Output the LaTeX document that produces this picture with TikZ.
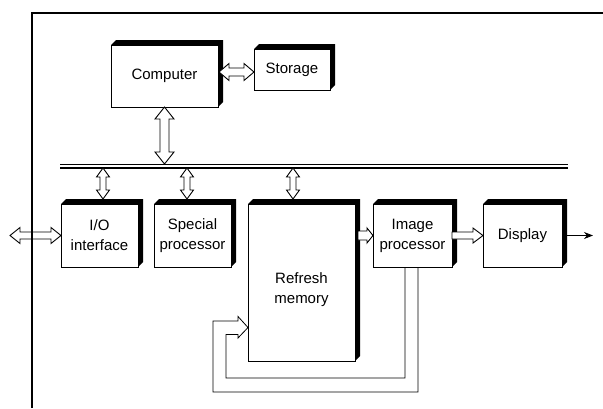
\documentclass[tikz,border=0pt]{standalone}
\usepackage{fontspec}
\setmainfont{Liberation Sans}
\usetikzlibrary{calc,arrows.meta}

\newcommand{\dblarrow}[5]{%
  \path[fat] (#4)
    -- ($(#4)!#3!(#5)!#2!90:(#5)$) -- ($(#4)!#3!(#5)!#1!90:(#5)$)
    -- ($(#5)!#3!(#4)!#1!-90:(#4)$) -- ($(#5)!#3!(#4)!#2!-90:(#4)$)
    -- (#5)
    -- ($(#5)!#3!(#4)!#2!90:(#4)$) -- ($(#5)!#3!(#4)!#1!90:(#4)$)
    -- ($(#4)!#3!(#5)!#1!-90:(#5)$) -- ($(#4)!#3!(#5)!#2!-90:(#5)$)
    -- cycle;}
\newcommand{\fatarrow}[5]{%
  \path[fat] ($(#4)!#1!90:(#5)$)
    -- ($(#5)!#3!(#4)!#1!-90:(#4)$) -- ($(#5)!#3!(#4)!#2!-90:(#4)$)
    -- (#5)
    -- ($(#5)!#3!(#4)!#2!90:(#4)$) -- ($(#5)!#3!(#4)!#1!90:(#4)$)
    -- ($(#4)!#1!-90:(#5)$) -- cycle;}

\begin{document}
\begin{tikzpicture}[x=1pt, y=-1pt,
  box/.style={rectangle, draw, fill=white, line width=0.9pt, outer sep=0pt, inner sep=0pt, align=center, font={\fontsize{15}{20}\selectfont}},
  fat/.style={draw, fill=white, line width=0.9pt},
  wire/.style={line width=0.8pt}
]
  \useasboundingbox (0,0) rectangle (603,408);
  \node[box, minimum width=107pt, minimum height=62pt] (comp) at (164.5,76) {Computer};
  \node[box, minimum width=76pt, minimum height=41pt] (stor) at (292,69.5) {Storage};
  \node[box, minimum width=77pt, minimum height=63pt] (io) at (99.5,235.5) {I/O\\interface};
  \node[box, minimum width=77pt, minimum height=63pt] (spec) at (192.5,235.5) {Special\\processor};
  \node[box, minimum width=107pt, minimum height=157pt] (refr) at (301.5,282.5) {\rule{0pt}{26pt}Refresh\\memory};
  \node[box, minimum width=79pt, minimum height=63pt] (imgp) at (412.5,235.5) {Image\\processor};
  \node[box, minimum width=79pt, minimum height=63pt] (disp) at (522.5,235.5) {Display};

  \foreach \n in {comp,stor,io,spec,refr,imgp,disp}
    \fill (\n.north west) -- ++(5,-5) -| ($(\n.south east)+(5,-5)$) -- (\n.south east) -- (\n.north east) -- cycle;

  \coordinate (busL) at (60,164);
  \coordinate (busR) at (568,164);
  \coordinate (busB) at ($(busL)+(0,4)$);
  \draw[line width=0.8pt] (busL) -- (busR);
  \draw[line width=1.3pt] (busB) -- ($(busR)+(0,4)$);

  \coordinate (cs1) at ($(comp.east)+(1,-4)$);
  \coordinate (cs2) at (stor.west |- cs1);
  \dblarrow{4pt}{8.5pt}{10pt}{cs1}{cs2}
  \coordinate (cb) at (comp.south |- busL);
  \dblarrow{4.5pt}{9.5pt}{12pt}{comp.south}{cb}
  \foreach \n/\dx in {io/3.5, spec/-5.5, refr/-8.5} {
    \coordinate (t) at ($(\n.north)+(\dx,-5)$);
    \coordinate (s) at (t |- busB);
    \dblarrow{3pt}{6.5pt}{9pt}{s}{t}
  }
  \coordinate (ext) at ($(io.west)+(-51,0)$);
  \dblarrow{3.5pt}{8pt}{10pt}{ext}{io.west}
  \coordinate (ri) at ($(refr.east |- imgp.west)+(3,0)$);
  \fatarrow{4.5pt}{7.5pt}{6pt}{ri}{imgp.west}
  \fatarrow{3.5pt}{7.5pt}{10pt}{imgp.east}{disp.west}
  \coordinate (out) at ($(disp.east)+(31,0)$);
  \draw[wire, -{Stealth[length=9pt,width=7pt]}] (disp.east) -- (out);

  \coordinate (fi) at ($(imgp.south west)+(32,0)$);
  \coordinate (fo) at ($(imgp.south west)+(45,0)$);
  \coordinate (tip) at ($(refr.west)+(0,45)$);
  \draw[wire] (fi) -- ++(0,111) -| ($(tip)+(-22,7)$) -- ($(tip)+(-10,7)$) -- ($(tip)+(-10,10.5)$)
    -- (tip) -- ($(tip)+(-10,-11)$) -- ($(tip)+(-10,-6.5)$) -- ($(tip)+(-35,-6.5)$)
    |- ($(fo)+(0,125)$) -- (fo);

  \draw[line width=1.1pt] (32,408) -- (32,13) -- (603,13);
\end{tikzpicture}
\end{document}
